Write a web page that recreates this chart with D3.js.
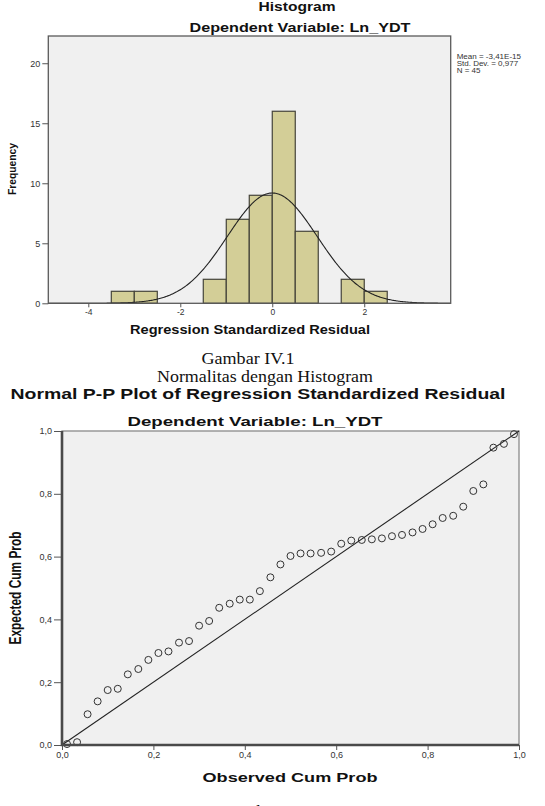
<!DOCTYPE html>
<html>
<head>
<meta charset="utf-8">
<script src="https://cdn.jsdelivr.net/npm/d3@7"></script>
<style>
  body { margin: 0; background: #ffffff; }
  svg { display: block; }
  .tick text { fill: #333333; font-family: "Liberation Sans", Arial, sans-serif; }
  .tick line { stroke: #555555; }
  .ttl { font-family: "Liberation Sans", Arial, sans-serif; font-weight: bold; fill: #111111; }
  .narrow { font-family: "Liberation Sans Narrow", "Liberation Sans", Arial, sans-serif; font-weight: bold; fill: #111111; }
  .cap { font-family: "Liberation Serif", "Times New Roman", serif; fill: #111111; }
</style>
</head>
<body>
<svg id="chart" width="545" height="806"></svg>
<script>
// Histogram data (bins of 0.5)
var binStart = [-3.5, -3.0, -1.5, -1.0, -0.5, 0.0, 0.5, 1.5, 2.0];
var binCount = [1, 1, 2, 7, 9, 16, 6, 2, 1];
var binWidth = 0.5;
var histMean = -3.41e-15;
var histSd = 0.977;
var histN = 45;
var histXTicks = [-4, -2, 0, 2];
var histYTicks = [0, 5, 10, 15, 20];
var legendLines = ["Mean = -3,41E-15", "Std. Dev. = 0,977", "N = 45"];

// P-P plot data
var ppObserved = [0.011, 0.033, 0.056, 0.078, 0.100, 0.122, 0.144, 0.167, 0.189, 0.211,
                  0.233, 0.256, 0.278, 0.300, 0.322, 0.344, 0.367, 0.389, 0.411, 0.433,
                  0.456, 0.478, 0.500, 0.522, 0.544, 0.567, 0.589, 0.611, 0.633, 0.656,
                  0.678, 0.700, 0.722, 0.744, 0.767, 0.789, 0.811, 0.833, 0.856, 0.878,
                  0.900, 0.922, 0.944, 0.967, 0.989];
var ppExpected = [0.003, 0.009, 0.098, 0.139, 0.175, 0.179, 0.225, 0.242, 0.271, 0.293,
                  0.298, 0.326, 0.331, 0.380, 0.395, 0.437, 0.450, 0.463, 0.463, 0.490,
                  0.534, 0.575, 0.602, 0.610, 0.610, 0.612, 0.616, 0.641, 0.651, 0.653,
                  0.655, 0.658, 0.665, 0.669, 0.677, 0.688, 0.703, 0.723, 0.730, 0.759,
                  0.809, 0.830, 0.947, 0.959, 0.990];
var ppTicks = [0, 0.2, 0.4, 0.6, 0.8, 1.0];

var svg = d3.select("#chart");
var comma = function(d) { return d3.format(".1f")(d).replace(".", ","); };

// text helper: fixed width like the SPSS output
function label(cls, x, y, size, len, txt, anchor) {
  return svg.append("text")
            .attr("class", cls)
            .attr("x", x)
            .attr("y", y)
            .attr("font-size", size)
            .attr("text-anchor", anchor || "middle")
            .attr("textLength", len)
            .attr("lengthAdjust", "spacingAndGlyphs")
            .text(txt);
}

////////////////////////////////////////////////////////////////////////////////
// HISTOGRAM
var hx = d3.scaleLinear().domain([-4.87, 3.88]).range([48.3, 450.7]);
var hy = d3.scaleLinear().domain([0, 22.27]).range([303.3, 36]);

svg.append("rect")
   .attr("x", hx.range()[0]).attr("y", hy.range()[1])
   .attr("width", hx.range()[1] - hx.range()[0])
   .attr("height", hy.range()[0] - hy.range()[1])
   .attr("fill", "#f0f0f0");

svg.selectAll(".bar")
   .data(binStart)
   .enter()
   .append("rect")
   .attr("class", "bar")
   .attr("x", function(d) { return hx(d); })
   .attr("y", function(d, i) { return hy(binCount[i]); })
   .attr("width", function(d) { return hx(d + binWidth) - hx(d); })
   .attr("height", function(d, i) { return hy(0) - hy(binCount[i]); })
   .attr("fill", "#d3ce97")
   .attr("stroke", "#45443a")
   .attr("stroke-width", 1.2);

// fitted normal curve from mean / sd / N
var curveX = d3.range(hx.domain()[0], hx.domain()[1] + 0.001, 0.02);
var normal = function(x) {
  var z = (x - histMean) / histSd;
  return histN * binWidth * Math.exp(-0.5 * z * z) / (histSd * Math.sqrt(2 * Math.PI));
};
svg.append("path")
   .datum(curveX)
   .attr("fill", "none")
   .attr("stroke", "#222222")
   .attr("stroke-width", 1.1)
   .attr("d", d3.line().x(function(d) { return hx(d); }).y(function(d) { return hy(normal(d)); }));

svg.append("rect")
   .attr("x", hx.range()[0]).attr("y", hy.range()[1])
   .attr("width", hx.range()[1] - hx.range()[0])
   .attr("height", hy.range()[0] - hy.range()[1])
   .attr("fill", "none")
   .attr("stroke", "#5a5a5a")
   .attr("stroke-width", 1.3);

var hAxisY = svg.append("g")
   .attr("transform", "translate(" + hx.range()[0] + ",0)")
   .call(d3.axisLeft(hy).tickValues(histYTicks).tickSize(6).tickPadding(2));
hAxisY.select(".domain").remove();
hAxisY.selectAll("text").attr("font-size", 9);

var hAxisX = svg.append("g")
   .attr("transform", "translate(0," + hy(0) + ")")
   .call(d3.axisBottom(hx).tickValues(histXTicks).tickSize(4).tickPadding(2).tickFormat(function(d) { return d < 0 ? "-" + Math.abs(d) : d; }));
hAxisX.select(".domain").remove();
hAxisX.selectAll("text").attr("font-size", 8.5);

label("ttl", 297, 10.5, 12, 77, "Histogram");
label("ttl", 300, 31.5, 12, 221, "Dependent Variable: Ln_YDT");
label("ttl", 250, 334, 12, 240, "Regression Standardized Residual");

svg.append("text")
   .attr("class", "narrow")
   .attr("transform", "translate(15.5,169) rotate(-90)")
   .attr("font-size", 11)
   .attr("text-anchor", "middle")
   .attr("textLength", 52)
   .attr("lengthAdjust", "spacingAndGlyphs")
   .text("Frequency");

svg.selectAll(".legend")
   .data(legendLines)
   .enter()
   .append("text")
   .attr("class", "legend")
   .attr("x", 456.7)
   .attr("y", function(d, i) { return 58.5 + i * 7.4; })
   .attr("font-size", 8)
   .attr("font-family", "Liberation Sans, Arial, sans-serif")
   .attr("fill", "#333333")
   .text(function(d) { return d; });

label("cap", 248, 364, 17, 93, "Gambar IV.1");
label("cap", 265, 382, 17, 216, "Normalitas dengan Histogram");

////////////////////////////////////////////////////////////////////////////////
// NORMAL P-P PLOT
var px = d3.scaleLinear().domain([0, 1]).range([62, 519]);
var py = d3.scaleLinear().domain([0, 1]).range([745, 431]);

svg.append("rect")
   .attr("x", px(0)).attr("y", py(1))
   .attr("width", px(1) - px(0))
   .attr("height", py(0) - py(1))
   .attr("fill", "#f0f0f0")
   .attr("stroke", "#8a8a8a")
   .attr("stroke-width", 1.3);

svg.append("line")
   .attr("x1", px(0)).attr("y1", py(0))
   .attr("x2", px(1)).attr("y2", py(1))
   .attr("stroke", "#222222")
   .attr("stroke-width", 1.1);

svg.selectAll(".pt")
   .data(ppObserved)
   .enter()
   .append("circle")
   .attr("class", "pt")
   .attr("cx", function(d) { return px(d); })
   .attr("cy", function(d, i) { return py(ppExpected[i]); })
   .attr("r", 3.5)
   .attr("fill", "none")
   .attr("stroke", "#333333")
   .attr("stroke-width", 1);

var pAxisY = svg.append("g")
   .attr("transform", "translate(" + px(0) + ",0)")
   .call(d3.axisLeft(py).tickValues(ppTicks).tickSize(8).tickPadding(2).tickFormat(comma));
pAxisY.select(".domain").remove();
pAxisY.selectAll("text").attr("font-size", 9);

var pAxisX = svg.append("g")
   .attr("transform", "translate(0," + py(0) + ")")
   .call(d3.axisBottom(px).tickValues(ppTicks).tickSize(5).tickPadding(2).tickFormat(comma));
pAxisX.select(".domain").remove();
pAxisX.selectAll("text").attr("font-size", 9);

// heavy axis lines
svg.append("path")
   .attr("d", "M" + px(0) + "," + py(1) + "V" + py(0) + "H" + px(1))
   .attr("fill", "none")
   .attr("stroke", "#4a4a4a")
   .attr("stroke-width", 2.6);

label("ttl", 258, 399, 14, 495, "Normal P-P Plot of Regression Standardized Residual");
label("ttl", 255, 425.5, 13, 255, "Dependent Variable: Ln_YDT");
label("ttl", 290, 782, 13, 175, "Observed Cum Prob");

svg.append("text")
   .attr("class", "narrow")
   .attr("transform", "translate(21,588) rotate(-90)")
   .attr("font-size", 16)
   .attr("text-anchor", "middle")
   .attr("textLength", 113)
   .attr("lengthAdjust", "spacingAndGlyphs")
   .text("Expected Cum Prob");

// caption of the second figure, cut by the page edge as in the source
label("cap", 268, 817, 17, 93, "Gambar IV.2");
</script>
</body>
</html>
